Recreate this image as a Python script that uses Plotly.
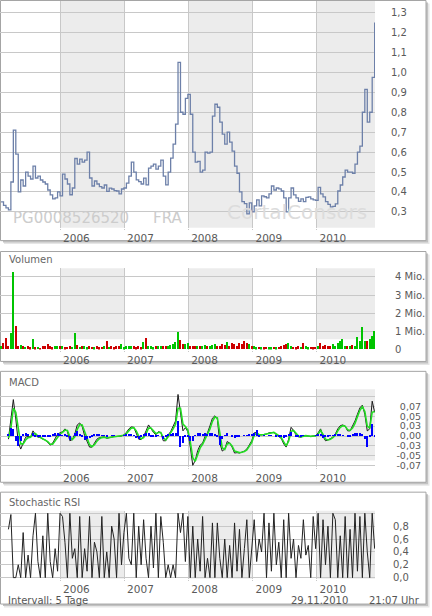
import pandas as pd
import plotly.graph_objects as go

W, H = 432, 616
FONT = "DejaVu Sans, Verdana, sans-serif"
TXT = "#5a5a5a"
GRID = "#c8c8c8"
SHADE = "#ececec"

dates = pd.date_range(end="2010-11-26", periods=153, freq="14D")
x_start, x_end = "2005-01-22", "2010-11-28"
year_starts = ["2006-01-01", "2007-01-01", "2008-01-01", "2009-01-01", "2010-01-01"]
year_labels = ["2006", "2007", "2008", "2009", "2010"]
shaded_years = [("2006-01-01", "2007-01-01"), ("2008-01-01", "2009-01-01"), ("2010-01-01", x_end)]

price = [
    0.35, 0.333, 0.32, 0.31, 0.45, 0.71, 0.59, 0.40, 0.46, 0.43,
    0.50, 0.48, 0.465, 0.53, 0.47, 0.48, 0.46, 0.45, 0.44, 0.41,
    0.385, 0.365, 0.37, 0.40, 0.38, 0.49, 0.465, 0.44, 0.386, 0.42,
    0.568, 0.54, 0.565, 0.55, 0.56, 0.60, 0.47, 0.43, 0.455, 0.44,
    0.427, 0.42, 0.435, 0.403, 0.419, 0.415, 0.407, 0.405, 0.39, 0.415,
    0.42, 0.444, 0.48, 0.55, 0.50, 0.461, 0.452, 0.44, 0.469, 0.436,
    0.52, 0.53, 0.54, 0.515, 0.53, 0.56, 0.48, 0.436, 0.50, 0.57,
    0.64, 0.74, 1.05, 0.80, 0.79, 0.87, 0.89, 0.79, 0.60, 0.55,
    0.553, 0.50, 0.51, 0.60, 0.595, 0.60, 0.78, 0.84, 0.825, 0.75,
    0.69, 0.64, 0.70, 0.65, 0.605, 0.53, 0.494, 0.40, 0.352, 0.342,
    0.29, 0.345, 0.30, 0.33, 0.36, 0.33, 0.38, 0.376, 0.37, 0.39,
    0.43, 0.41, 0.42, 0.416, 0.405, 0.37, 0.30, 0.37, 0.42, 0.385,
    0.37, 0.353, 0.365, 0.352, 0.373, 0.375, 0.365, 0.36, 0.358, 0.423,
    0.39, 0.375, 0.352, 0.338, 0.325, 0.328, 0.34, 0.405, 0.435, 0.475,
    0.51, 0.50, 0.50, 0.494, 0.54, 0.60, 0.63, 0.80, 0.915, 0.75,
    0.80, 0.975, 1.25,
]

volume_mio = [
    0.15, 0.33, 0.6, 0.2, 0.87, 4.24, 1.3, 0.15, 0.25, 0.15,
    0.12, 0.2, 0.1, 0.56, 0.1, 0.12, 0.08, 0.15, 0.2, 0.3,
    0.15, 0.1, 0.2, 0.15, 0.2, 0.15, 0.1, 0.12, 0.15, 0.12,
    0.9, 0.25, 0.12, 0.15, 0.15, 0.1, 0.15, 0.12, 0.1, 0.15,
    0.1, 0.12, 0.15, 0.47, 0.12, 0.15, 0.1, 0.2, 0.2, 0.3,
    0.1, 0.2, 0.2, 0.2, 0.15, 0.1, 0.15, 0.1, 0.42, 0.62,
    0.15, 0.2, 0.1, 0.15, 0.2, 0.15, 0.2, 0.15, 0.2, 0.25,
    0.3, 0.42, 0.96, 0.5, 0.3, 0.3, 0.35, 0.2, 0.15, 0.2,
    0.15, 0.2, 0.15, 0.25, 0.15, 0.2, 0.25, 0.3, 0.2, 0.15,
    0.3, 0.25, 0.42, 0.2, 0.35, 0.3, 0.2, 0.35, 0.3, 0.45,
    0.35, 0.3, 0.2, 0.15, 0.1, 0.12, 0.1, 0.1, 0.12, 0.1,
    0.1, 0.12, 0.1, 0.12, 0.15, 0.25, 0.3, 0.35, 0.15, 0.12,
    0.1, 0.15, 0.12, 0.35, 0.2, 0.1, 0.12, 0.1, 0.12, 0.15,
    0.35, 0.15, 0.25, 0.2, 0.15, 0.3, 0.2, 0.35, 0.45, 0.58,
    0.15, 0.2, 0.15, 0.25, 0.2, 0.65, 0.45, 1.24, 0.45, 0.47,
    0.55, 0.73, 1.02,
]

macd = [None, None, None,
    -0.008, 0.038, 0.092, 0.043, -0.016, -0.033, -0.016,
    -0.003, -0.001, -0.003, 0.013, 0.003, -0.003, -0.004, -0.008, -0.01, -0.016,
    -0.023, -0.018, -0.006, 0.005, 0.008, 0.011, 0.018, 0.011, -0.012, -0.009,
    0.005, 0.028, 0.033, 0.024, 0.001, -0.014, -0.028, -0.028, -0.018, -0.008,
    -0.004, -0.002, -0.002, -0.006, -0.004, -0.002, -0.001, -0.001, -0.001, 0.0,
    0.003, 0.009, 0.018, 0.023, 0.022, 0.007, -0.008, -0.009, -0.001, 0.013,
    0.028, 0.019, 0.009, 0.003, 0.011, 0.009, -0.012, -0.012, 0.003, 0.011,
    0.024, 0.038, 0.105, 0.059, 0.013, 0.021, 0.011, -0.028, -0.074, -0.062,
    -0.037, -0.023, -0.018, -0.001, 0.008, 0.026, 0.045, 0.051, 0.043, -0.018,
    -0.038, -0.033, -0.014, -0.018, -0.028, -0.043, -0.042, -0.043, -0.041, -0.038,
    -0.033, -0.023, -0.012, 0.008, 0.009, 0.002, 0.003, 0.005, 0.005, 0.008,
    0.009, 0.009, 0.003, -0.002, -0.006, -0.02, -0.028, -0.008, 0.022, 0.014,
    0.003, -0.002, -0.003, 0.001, 0.001, 0.0, -0.001, 0.0, 0.001, 0.008,
    0.018, -0.001, -0.012, -0.01, -0.007, -0.003, 0.005, 0.018, 0.026, 0.028,
    0.025, 0.013, 0.013, 0.024, 0.038, 0.055, 0.071, 0.078, 0.055, 0.013,
    0.018, 0.088, 0.06,
]

signal = [None, None, None,
    -0.005, 0.02, 0.07, 0.06, 0.02, -0.02, -0.02,
    -0.01, -0.004, -0.003, 0.006, 0.006, 0.0, -0.003, -0.006, -0.009, -0.014,
    -0.021, -0.021, -0.012, -0.002, 0.005, 0.009, 0.015, 0.014, -0.002, -0.009,
    -0.002, 0.017, 0.029, 0.028, 0.012, -0.006, -0.022, -0.027, -0.022, -0.013,
    -0.007, -0.004, -0.003, -0.005, -0.004, -0.003, -0.002, -0.001, -0.001, 0.0,
    0.002, 0.006, 0.013, 0.02, 0.021, 0.013, 0.0, -0.007, -0.004, 0.006,
    0.02, 0.02, 0.013, 0.006, 0.009, 0.009, -0.004, -0.01, -0.002, 0.007,
    0.018, 0.03, 0.07, 0.07, 0.03, 0.024, 0.015, -0.015, -0.055, -0.064,
    -0.045, -0.03, -0.021, -0.008, 0.004, 0.018, 0.037, 0.048, 0.046, 0.005,
    -0.03, -0.034, -0.02, -0.018, -0.025, -0.038, -0.041, -0.042, -0.041, -0.039,
    -0.035, -0.027, -0.016, 0.002, 0.007, 0.004, 0.003, 0.004, 0.005, 0.007,
    0.008, 0.009, 0.005, 0.0, -0.004, -0.015, -0.025, -0.013, 0.012, 0.014,
    0.006, 0.0, -0.002, 0.0, 0.001, 0.0, -0.001, 0.0, 0.0, 0.005,
    0.014, 0.004, -0.008, -0.01, -0.008, -0.004, 0.002, 0.013, 0.022, 0.026,
    0.025, 0.016, 0.014, 0.02, 0.032, 0.049, 0.065, 0.074, 0.062, 0.025,
    0.02, 0.06, 0.062,
]

macd_hist = [None, None, None,
    0.003, 0.02, 0.018, -0.012, -0.025, -0.012, 0.004,
    0.006, 0.003, 0.0, 0.007, -0.003, -0.003, -0.001, -0.002, -0.001, -0.002,
    -0.002, 0.003, 0.006, 0.007, 0.003, 0.002, 0.003, -0.003, -0.01, 0.0,
    0.007, 0.011, 0.004, -0.004, -0.011, -0.008, -0.006, -0.001, 0.004, 0.005,
    0.003, 0.002, 0.001, -0.001, 0.0, 0.001, 0.001, 0.0, 0.0, 0.0,
    0.001, 0.003, 0.005, 0.003, 0.001, -0.006, -0.008, -0.002, 0.003, 0.007,
    0.008, -0.001, -0.004, -0.003, 0.002, 0.0, -0.008, -0.002, 0.005, 0.004,
    0.006, 0.008, 0.038, -0.028, -0.017, -0.003, -0.004, -0.013, -0.012, 0.002,
    0.008, 0.007, 0.003, 0.007, 0.004, 0.008, 0.008, 0.003, -0.003, -0.022,
    -0.008, 0.001, 0.006, 0.0, -0.003, -0.005, -0.001, -0.001, 0.0, 0.001,
    0.002, 0.004, 0.004, 0.006, 0.015, -0.002, 0.0, 0.001, 0.0, 0.001,
    0.001, 0.0, -0.002, -0.002, -0.002, -0.005, -0.003, 0.005, 0.01, 0.0,
    -0.003, -0.002, -0.001, 0.001, 0.0, 0.0, 0.0, 0.0, 0.001, 0.003,
    0.004, -0.005, -0.004, -0.002, 0.001, 0.001, 0.003, 0.005, 0.004, 0.002,
    0.0, -0.003, -0.001, 0.004, 0.006, 0.006, 0.006, 0.004, -0.007, -0.028,
    -0.002, 0.03, -0.004,
]

stoch_rsi = [None, None, None,
    0.75, 0.98, 0.0, 0.0, 0.2, 0.0, 0.7,
    0.0, 0.35, 0.0, 0.65, 1.0, 0.25, 0.0, 0.65, 0.0, 1.0,
    0.25, 0.0, 0.45, 0.1, 1.0, 0.95, 0.55, 0.0, 1.0, 0.3,
    0.45, 0.0, 0.95, 0.0, 0.45, 0.1, 0.95, 0.0, 0.55, 0.4,
    0.0, 0.95, 0.0, 0.4, 0.0, 0.8, 0.6, 0.0, 1.0, 0.2,
    0.7, 1.0, 0.3, 0.2, 1.0, 0.0, 0.8, 0.2, 0.9, 0.3,
    0.0, 0.8, 0.15, 1.0, 0.0, 0.95, 0.55, 0.0, 0.2, 0.0,
    0.2, 0.0, 1.0, 0.7, 1.0, 0.25, 0.95, 0.0, 0.8, 0.0,
    0.6, 0.1, 0.95, 0.0, 0.3, 0.0, 0.85, 0.0, 0.85, 0.3,
    0.0, 0.6, 0.0, 0.5, 0.0, 0.85, 0.1, 0.75, 0.0, 0.45,
    0.9, 0.0, 0.5, 0.9, 0.25, 0.6, 0.4, 1.0, 0.0, 0.85,
    0.1, 1.0, 0.2, 0.55, 0.0, 0.9, 0.0, 1.0, 0.3, 0.6,
    0.0, 0.5, 0.3, 0.9, 0.35, 0.5, 0.0, 0.95, 0.45, 1.0,
    0.0, 0.9, 0.2, 0.8, 0.0, 1.0, 0.9, 0.0, 0.65, 0.0,
    0.95, 0.0, 0.75, 0.0, 1.0, 0.1, 0.95, 0.0, 1.0, 0.4,
    0.0, 1.0, 0.45,
]

price_ticks = [0.3, 0.4, 0.5, 0.6, 0.7, 0.8, 0.9, 1.0, 1.1, 1.2, 1.3]
price_labels = ["0,3", "0,4", "0,5", "0,6", "0,7", "0,8", "0,9", "1,0", "1,1", "1,2", "1,3"]
vol_ticks = [0, 1, 2, 3, 4]
vol_labels = ["0", "1 Mio.", "2 Mio.", "3 Mio.", "4 Mio."]
macd_ticks = [-0.075, -0.05, -0.025, 0, 0.025, 0.05, 0.075, 0.1]
macd_labels = ["-0,07", "-0,05", "-0,03", "0,00", "0,03", "0,05", "0,07", ""]
stoch_ticks = [0, 0.2, 0.4, 0.6, 0.8, 1.0]
stoch_labels = ["0,0", "0,2", "0,4", "0,6", "0,8", ""]


def fx(p):
    return p / W


def fy(p):
    return 1 - p / H


DAY = 86400000
# up weeks green, down weeks red
vol_colors = ["#00c400" if i == 0 or price[i] >= price[i - 1] else "#cc0000"
              for i in range(len(price))]

fig = go.Figure()
fig.add_trace(go.Scatter(x=dates, y=price, mode="lines", xaxis="x", yaxis="y",
                         line=dict(color="#6d80a9", width=1.3, shape="hv")))
fig.add_trace(go.Bar(x=dates, y=volume_mio, xaxis="x2", yaxis="y2", width=8 * DAY,
                     marker=dict(color=vol_colors, line=dict(width=0))))
fig.add_trace(go.Scatter(x=dates, y=macd, mode="lines", xaxis="x3", yaxis="y3",
                         line=dict(color="#1a1a1a", width=1)))
fig.add_trace(go.Scatter(x=dates, y=signal, mode="lines", xaxis="x3", yaxis="y3",
                         line=dict(color="#22dd22", width=1.6)))
fig.add_trace(go.Bar(x=dates, y=macd_hist, xaxis="x3", yaxis="y5", width=6 * DAY,
                     marker=dict(color="#0000ff", line=dict(width=0))))
fig.add_trace(go.Scatter(x=dates, y=stoch_rsi, mode="lines", xaxis="x4", yaxis="y4",
                         line=dict(color="#222222", width=1)))

# box top/bottom, plot top/bottom, bottom of the grey year bands (pixels)
panels = [
    dict(box=(0.5, 243), plot=(1, 230), shade=230),
    dict(box=(254, 365), plot=(271, 353), shade=342.7),
    dict(box=(375, 487), plot=(393, 472), shade=465),
    dict(box=(497, 610), plot=(515.7, 584.5), shade=584.5),
]

shapes = []
for i, p in enumerate(panels):
    b0, b1 = p["box"]
    shapes.append(dict(type="rect", xref="paper", yref="paper", layer="below",
                       x0=fx(4), x1=fx(429.5), y0=fy(b0 + 3), y1=fy(b1 + 3.5),
                       fillcolor="#e6e6e6", line=dict(width=0)))
    shapes.append(dict(type="rect", xref="paper", yref="paper", layer="below",
                       x0=fx(3), x1=fx(428), y0=fy(b0 + 2), y1=fy(b1 + 2),
                       fillcolor="#c2c2c2", line=dict(width=0)))
    shapes.append(dict(type="rect", xref="paper", yref="paper", layer="below",
                       x0=fx(0.5), x1=fx(426), y0=fy(b0), y1=fy(b1),
                       fillcolor="white", line=dict(color="#a4a4a4", width=1)))
    xr = "x" if i == 0 else f"x{i + 1}"
    for s0, s1 in shaded_years:
        shapes.append(dict(type="rect", xref=xr, yref="paper", layer="below",
                           x0=s0, x1=s1, y0=fy(p["shade"]), y1=fy(p["plot"][0]),
                           fillcolor=SHADE, line=dict(width=0)))

tickfont = dict(family=FONT, size=10.5, color=TXT)
xcommon = dict(range=[x_start, x_end], domain=[0, fx(375)], tickvals=year_starts,
               ticktext=year_labels, ticks="outside", ticklen=1, tickcolor=GRID,
               showgrid=True, gridcolor=GRID, gridwidth=1, zeroline=False,
               showline=False, tickfont=tickfont, ticklabelshift=16, fixedrange=True)
ycommon = dict(showgrid=True, gridcolor=GRID, gridwidth=1, zeroline=False,
               showline=False, ticks="", tickfont=dict(tickfont, size=10), fixedrange=True)


def dom(p):
    t, b = p["plot"]
    return [fy(b), fy(t)]


fig.update_layout(
    width=W, height=H, margin=dict(l=0, r=0, t=0, b=0),
    paper_bgcolor="white", plot_bgcolor="rgba(0,0,0,0)",
    showlegend=False, bargap=0, shapes=shapes,
    font=dict(family=FONT, color=TXT),
    xaxis=dict(xcommon, anchor="y"),
    xaxis2=dict(xcommon, anchor="y2"),
    xaxis3=dict(xcommon, anchor="y3"),
    xaxis4=dict(xcommon, anchor="y4"),
    yaxis=dict(ycommon, domain=dom(panels[0]), range=[0.2205, 1.358], anchor="x",
               side="right", tickvals=price_ticks, ticktext=price_labels,
               ticklabelstandoff=15),
    yaxis2=dict(ycommon, domain=dom(panels[1]), range=[0, 4.47], anchor="x2",
                side="right", tickvals=vol_ticks, ticktext=vol_labels,
                ticklabelstandoff=19),
    yaxis3=dict(ycommon, domain=dom(panels[2]), range=[-0.0793, 0.1183], anchor="free",
                position=fx(421), side="left", tickvals=macd_ticks, ticktext=macd_labels,
                tickfont=dict(tickfont, size=9.5)),
    yaxis5=dict(range=[-0.0793, 0.1183], overlaying="y3", anchor="x3", visible=False,
                fixedrange=True),
    yaxis4=dict(ycommon, domain=dom(panels[3]), range=[-0.018, 1.04], anchor="x4",
                side="right", tickvals=stoch_ticks, ticktext=stoch_labels,
                ticklabelstandoff=17),
)

notes = [
    ("Volumen", 7, 262, 10, "#666666", "left"),
    ("MACD", 7, 386, 10, "#666666", "left"),
    ("Stochastic RSI", 7, 507, 10, "#666666", "left"),
    ("Intervall: 5 Tage", 6, 606.5, 10, "#555555", "left"),
    ("29.11.2010", 289, 606.5, 10, "#555555", "left"),
    ("21:07 Uhr", 422, 606.5, 10, "#555555", "right"),
    ("PG0008526520", 11, 220.5, 15, "#cccccc", "left"),
    ("FRA", 151, 220.5, 15, "#cccccc", "left"),
    ("CortalConsors", 225, 214, 20, "#dcdcdc", "left"),
]
for text, x, y, size, color, anchor in notes:
    fig.add_annotation(text=text, xref="paper", yref="paper", x=fx(x), y=fy(y),
                       xanchor=anchor, yanchor="middle", showarrow=False,
                       font=dict(family=FONT, size=size, color=color))

# the page's default 8px body margin would push the chart off the window
fig.write_html("out.html", config={"displayModeBar": False},
               post_script="document.body.style.margin = '0px';")
